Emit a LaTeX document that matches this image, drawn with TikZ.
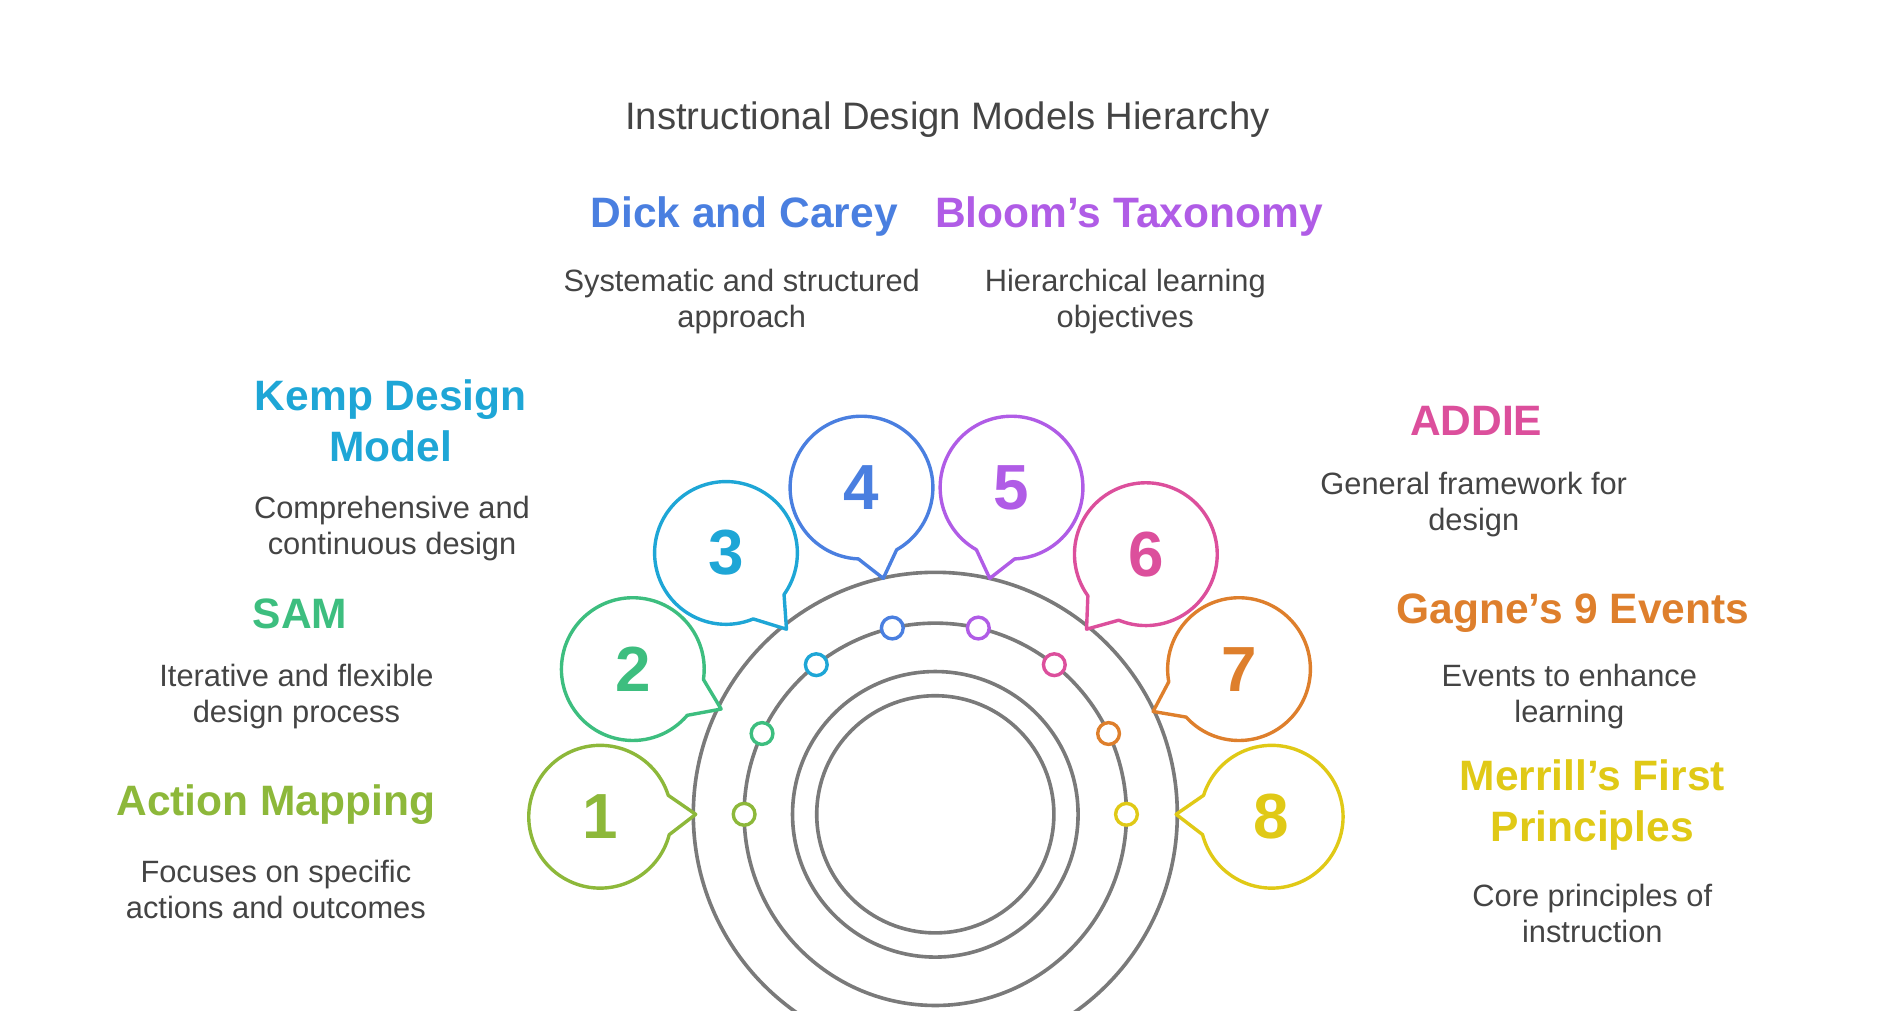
\documentclass[tikz,border=0pt]{standalone}
\usepackage{fontspec}
\setmainfont{Liberation Sans}
\usetikzlibrary{calc}
\definecolor{cA}{HTML}{8DB83A}
\definecolor{cB}{HTML}{3DBE7F}
\definecolor{cC}{HTML}{1EA6D6}
\definecolor{cD}{HTML}{4A7FE0}
\definecolor{cE}{HTML}{B05CE6}
\definecolor{cF}{HTML}{DC4F9C}
\definecolor{cG}{HTML}{DE7F2C}
\definecolor{cH}{HTML}{E0C916}
\definecolor{txt}{HTML}{444444}
\definecolor{ring}{HTML}{7A7A7A}
\tikzset{
  head/.style={font=\bfseries\fontsize{20}{24}\selectfont, align=center},
  desc/.style={font=\fontsize{14.5}{17}\selectfont, text=txt, align=center},
  numtxt/.style={font=\bfseries\fontsize{30}{34}\selectfont},
  ringline/.style={draw=ring, line width=1.7pt},
}
\begin{document}
\begin{tikzpicture}[x=0.02cm, y=0.02cm]
  \useasboundingbox (0,0) rectangle (1567,-835);
  \clip (0,0) rectangle (1567,-835);

  \node[font=\fontsize{18}{22}\selectfont, text=txt] (title) at (783,-99) {Instructional Design Models Hierarchy};

  % Rings
  \coordinate (ctr) at (773,-673);
  \draw[ringline] (ctr) circle[radius=200];
  \draw[ringline] (ctr) circle[radius=158];
  \draw[ringline] (ctr) circle[radius=118];
  \draw[ringline] (ctr) circle[radius=98];

  % Bubbles and dots
  \foreach \i/\col/\cx/\cy/\tx/\ty/\dang in {
      1/cA/496/675/575/673/180,
      2/cB/523/553/596/586/155,
      3/cC/600/457/650/520/128.5,
      4/cD/712/403/730/478/103,
      5/cE/836/403/818/478/77,
      6/cF/947/458/898/520/51.5,
      7/cG/1024/553/953/588/25,
      8/cH/1051/675/972/673/0} {
    \coordinate (bub\i) at (\cx,-\cy);
    \coordinate (tip\i) at (\tx,-\ty);
    \pgfmathsetmacro{\a}{atan2(-\ty+\cy,\tx-\cx)}
    \draw[draw=\col, line width=1.6pt, fill=white, line join=round]
      ($(bub\i)+(\a+16:59)$) arc[start angle=\a+16, end angle=\a+344, radius=59]
      -- (tip\i) -- cycle;
    \node[numtxt, text=\col] (num\i) at (bub\i) {\i};
    \node[circle, draw=\col, line width=1.6pt, fill=white, minimum size=0.36cm, inner sep=0pt]
      (dot\i) at ($(ctr)+(\dang:158)$) {};
  }

  % Labels
  \node[head, text=cA] (h1) at (228,-665) {Action Mapping};
  \node[desc] (d1) at (228,-735) {Focuses on specific\\actions and outcomes};
  \node[head, text=cB] (h2) at (248,-507) {SAM};
  \node[desc] (d2) at (245,-576) {Iterative and flexible\\design process};
  \node[head, text=cC] (h3) at (323,-348) {Kemp Design\\Model};
  \node[desc] (d3) at (324,-437) {Comprehensive and\\continuous design};
  \node[head, text=cD] (h4) at (615,-179) {Dick and Carey};
  \node[desc] (d4) at (613,-249) {Systematic and structured\\approach};
  \node[head, text=cE] (h5) at (933,-179) {Bloom’s Taxonomy};
  \node[desc] (d5) at (930,-249) {Hierarchical learning\\objectives};
  \node[head, text=cF] (h6) at (1220,-348) {ADDIE};
  \node[desc] (d6) at (1218,-417) {General framework for\\design};
  \node[head, text=cG] (h7) at (1300,-507) {Gagne’s 9 Events};
  \node[desc] (d7) at (1297,-576) {Events to enhance\\learning};
  \node[head, text=cH] (h8) at (1316,-665) {Merrill’s First\\Principles};
  \node[desc] (d8) at (1316,-755) {Core principles of\\instruction};
\end{tikzpicture}
\end{document}
